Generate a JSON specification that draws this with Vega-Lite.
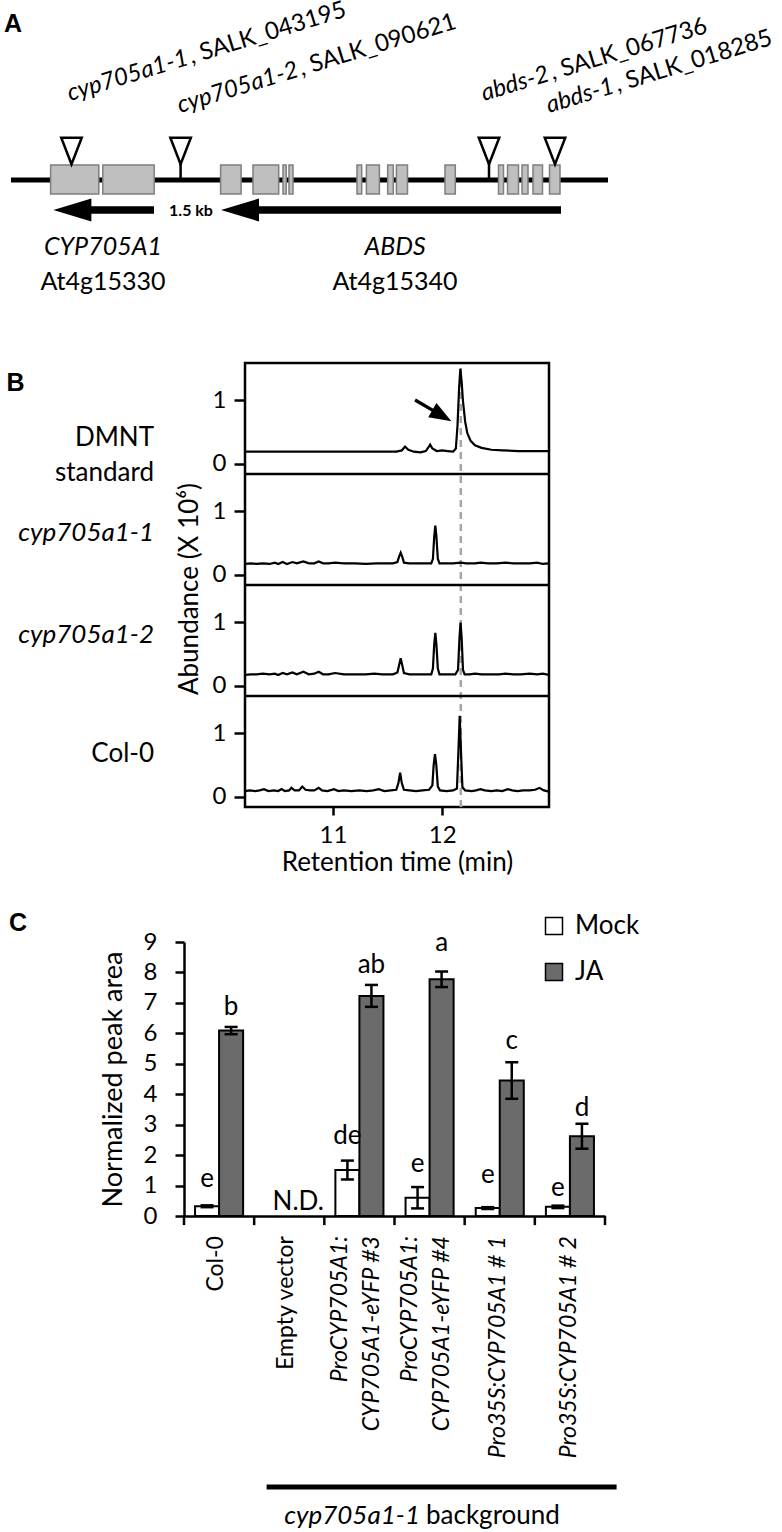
{
"$schema": "https://vega.github.io/schema/vega-lite/v6.json",
"background": "white",
"padding": {"left": 4, "top": -3, "right": 0, "bottom": 0},
"spacing": 34,
"resolve": {"scale": {"color": "independent"}},
"config": {
  "font": "Lato",
  "view": {"stroke": null},
  "axis": {"labelFont": "Lato", "titleFont": "Lato", "labelColor": "black", "titleColor": "black", "domainColor": "black", "tickColor": "black", "grid": false},
  "legend": {"labelFont": "Lato", "labelColor": "black"},
  "text": {"color": "black"}
},
"datasets": {
  "exons": [
    {"pos": 46.6, "pos2": 94.8}, {"pos": 98.8, "pos2": 150.2}, {"pos": 216.6, "pos2": 237.1}, {"pos": 249, "pos2": 274.7},
    {"pos": 279, "pos2": 282.2}, {"pos": 285, "pos2": 289}, {"pos": 353, "pos2": 357.7}, {"pos": 362.4, "pos2": 375.4},
    {"pos": 383.7, "pos2": 389.3}, {"pos": 392.4, "pos2": 403.5}, {"pos": 441, "pos2": 451.3}, {"pos": 494.5, "pos2": 499.5},
    {"pos": 503.5, "pos2": 514.5}, {"pos": 518, "pos2": 524}, {"pos": 529, "pos2": 538.5}, {"pos": 545.5, "pos2": 556}
  ],
  "dmnt": [
    {"t":10.196,"a":0.19},{"t":10.5,"a":0.19},{"t":10.8,"a":0.19},{"t":11.1,"a":0.19},{"t":11.4,"a":0.19},{"t":11.58,"a":0.19},
    {"t":11.63,"a":0.21},{"t":11.66,"a":0.27},{"t":11.69,"a":0.22},{"t":11.74,"a":0.19},{"t":11.8,"a":0.18},{"t":11.85,"a":0.2},
    {"t":11.875,"a":0.26},{"t":11.89,"a":0.3},{"t":11.91,"a":0.24},{"t":11.95,"a":0.2},{"t":12.0,"a":0.21},{"t":12.05,"a":0.2},
    {"t":12.1,"a":0.19},{"t":12.125,"a":0.24},{"t":12.14,"a":0.6},{"t":12.155,"a":1.2},{"t":12.166,"a":1.49},{"t":12.178,"a":1.28},
    {"t":12.19,"a":0.98},{"t":12.21,"a":0.66},{"t":12.23,"a":0.48},{"t":12.26,"a":0.36},{"t":12.3,"a":0.29},{"t":12.36,"a":0.25},
    {"t":12.45,"a":0.22},{"t":12.55,"a":0.21},{"t":12.7,"a":0.2},{"t":12.85,"a":0.2},{"t":12.977,"a":0.2}
  ],
  "cyp1": [
    {"t":10.196,"a":0.17},{"t":10.25,"a":0.18},{"t":10.3,"a":0.17},{"t":10.36,"a":0.18},{"t":10.42,"a":0.17},{"t":10.47,"a":0.19},
    {"t":10.5,"a":0.17},{"t":10.54,"a":0.2},{"t":10.58,"a":0.17},{"t":10.63,"a":0.2},{"t":10.67,"a":0.18},{"t":10.73,"a":0.21},
    {"t":10.78,"a":0.18},{"t":10.83,"a":0.18},{"t":10.87,"a":0.21},{"t":10.91,"a":0.18},{"t":10.96,"a":0.18},{"t":11.02,"a":0.19},
    {"t":11.1,"a":0.18},{"t":11.2,"a":0.18},{"t":11.3,"a":0.17},{"t":11.4,"a":0.18},{"t":11.48,"a":0.18},{"t":11.55,"a":0.18},
    {"t":11.59,"a":0.2},{"t":11.605,"a":0.28},{"t":11.62,"a":0.345},{"t":11.635,"a":0.28},{"t":11.65,"a":0.19},{"t":11.7,"a":0.18},
    {"t":11.78,"a":0.18},{"t":11.85,"a":0.18},{"t":11.9,"a":0.18},{"t":11.915,"a":0.25},{"t":11.927,"a":0.6},{"t":11.937,"a":0.77},
    {"t":11.947,"a":0.6},{"t":11.96,"a":0.25},{"t":11.975,"a":0.18},{"t":12.05,"a":0.18},{"t":12.1,"a":0.18},{"t":12.17,"a":0.19},
    {"t":12.22,"a":0.18},{"t":12.3,"a":0.18},{"t":12.35,"a":0.19},{"t":12.42,"a":0.18},{"t":12.5,"a":0.18},{"t":12.58,"a":0.19},
    {"t":12.65,"a":0.18},{"t":12.72,"a":0.18},{"t":12.8,"a":0.18},{"t":12.87,"a":0.19},{"t":12.92,"a":0.17},{"t":12.977,"a":0.18}
  ],
  "cyp2": [
    {"t":10.196,"a":0.17},{"t":10.25,"a":0.18},{"t":10.3,"a":0.18},{"t":10.36,"a":0.19},{"t":10.42,"a":0.18},{"t":10.47,"a":0.19},
    {"t":10.5,"a":0.17},{"t":10.54,"a":0.2},{"t":10.58,"a":0.18},{"t":10.63,"a":0.21},{"t":10.67,"a":0.18},{"t":10.73,"a":0.22},
    {"t":10.78,"a":0.18},{"t":10.83,"a":0.19},{"t":10.87,"a":0.22},{"t":10.91,"a":0.18},{"t":10.96,"a":0.18},{"t":11.02,"a":0.2},
    {"t":11.1,"a":0.18},{"t":11.2,"a":0.18},{"t":11.3,"a":0.18},{"t":11.38,"a":0.19},{"t":11.45,"a":0.18},{"t":11.55,"a":0.18},
    {"t":11.59,"a":0.21},{"t":11.605,"a":0.32},{"t":11.62,"a":0.43},{"t":11.635,"a":0.32},{"t":11.65,"a":0.2},{"t":11.7,"a":0.18},
    {"t":11.78,"a":0.18},{"t":11.85,"a":0.18},{"t":11.9,"a":0.18},{"t":11.915,"a":0.27},{"t":11.927,"a":0.65},{"t":11.937,"a":0.83},
    {"t":11.947,"a":0.65},{"t":11.96,"a":0.27},{"t":11.975,"a":0.18},{"t":12.05,"a":0.18},{"t":12.12,"a":0.18},{"t":12.145,"a":0.25},
    {"t":12.158,"a":0.75},{"t":12.168,"a":0.99},{"t":12.178,"a":0.75},{"t":12.19,"a":0.25},{"t":12.205,"a":0.18},{"t":12.25,"a":0.18},
    {"t":12.3,"a":0.19},{"t":12.36,"a":0.18},{"t":12.45,"a":0.18},{"t":12.52,"a":0.18},{"t":12.58,"a":0.19},{"t":12.65,"a":0.18},
    {"t":12.72,"a":0.18},{"t":12.8,"a":0.19},{"t":12.87,"a":0.18},{"t":12.92,"a":0.19},{"t":12.977,"a":0.17}
  ],
  "col0": [
    {"t":10.196,"a":0.09},{"t":10.24,"a":0.1},{"t":10.29,"a":0.09},{"t":10.33,"a":0.1},{"t":10.37,"a":0.12},{"t":10.41,"a":0.09},
    {"t":10.46,"a":0.1},{"t":10.5,"a":0.09},{"t":10.53,"a":0.12},{"t":10.56,"a":0.09},{"t":10.6,"a":0.1},{"t":10.62,"a":0.14},
    {"t":10.65,"a":0.1},{"t":10.69,"a":0.1},{"t":10.72,"a":0.16},{"t":10.75,"a":0.11},{"t":10.79,"a":0.1},{"t":10.83,"a":0.1},
    {"t":10.87,"a":0.14},{"t":10.9,"a":0.1},{"t":10.95,"a":0.09},{"t":11.01,"a":0.12},{"t":11.05,"a":0.09},{"t":11.1,"a":0.1},
    {"t":11.17,"a":0.09},{"t":11.24,"a":0.1},{"t":11.31,"a":0.09},{"t":11.37,"a":0.1},{"t":11.42,"a":0.12},{"t":11.47,"a":0.09},
    {"t":11.53,"a":0.1},{"t":11.58,"a":0.11},{"t":11.6,"a":0.22},{"t":11.615,"a":0.38},{"t":11.63,"a":0.22},{"t":11.65,"a":0.11},
    {"t":11.7,"a":0.1},{"t":11.76,"a":0.09},{"t":11.82,"a":0.1},{"t":11.88,"a":0.11},{"t":11.91,"a":0.18},{"t":11.922,"a":0.5},
    {"t":11.934,"a":0.67},{"t":11.946,"a":0.5},{"t":11.96,"a":0.16},{"t":11.98,"a":0.1},{"t":12.04,"a":0.09},{"t":12.1,"a":0.1},
    {"t":12.135,"a":0.13},{"t":12.148,"a":0.7},{"t":12.16,"a":1.27},{"t":12.172,"a":0.7},{"t":12.185,"a":0.15},{"t":12.21,"a":0.1},
    {"t":12.27,"a":0.09},{"t":12.31,"a":0.1},{"t":12.35,"a":0.12},{"t":12.39,"a":0.1},{"t":12.45,"a":0.09},{"t":12.5,"a":0.1},
    {"t":12.55,"a":0.09},{"t":12.6,"a":0.12},{"t":12.64,"a":0.1},{"t":12.69,"a":0.09},{"t":12.74,"a":0.1},{"t":12.8,"a":0.1},
    {"t":12.85,"a":0.11},{"t":12.89,"a":0.14},{"t":12.93,"a":0.1},{"t":12.977,"a":0.08}
  ],
  "bars": [
    {"line": "Col-0", "treatment": "Mock", "mean": 0.32, "lo": 0.29, "hi": 0.35},
    {"line": "Col-0", "treatment": "JA", "mean": 6.09, "lo": 5.97, "hi": 6.21},
    {"line": "ProCYP705A1:CYP705A1-eYFP #3", "treatment": "Mock", "mean": 1.51, "lo": 1.2, "hi": 1.82},
    {"line": "ProCYP705A1:CYP705A1-eYFP #3", "treatment": "JA", "mean": 7.23, "lo": 6.87, "hi": 7.59},
    {"line": "ProCYP705A1:CYP705A1-eYFP #4", "treatment": "Mock", "mean": 0.6, "lo": 0.25, "hi": 0.95},
    {"line": "ProCYP705A1:CYP705A1-eYFP #4", "treatment": "JA", "mean": 7.78, "lo": 7.52, "hi": 8.03},
    {"line": "Pro35S:CYP705A1 # 1", "treatment": "Mock", "mean": 0.26, "lo": 0.23, "hi": 0.29},
    {"line": "Pro35S:CYP705A1 # 1", "treatment": "JA", "mean": 4.45, "lo": 3.85, "hi": 5.05},
    {"line": "Pro35S:CYP705A1 # 2", "treatment": "Mock", "mean": 0.3, "lo": 0.26, "hi": 0.34},
    {"line": "Pro35S:CYP705A1 # 2", "treatment": "JA", "mean": 2.62, "lo": 2.21, "hi": 3.03}
  ],
  "letters": [
    {"line": "Col-0", "treatment": "Mock", "letter": "e", "v": 0.95},
    {"line": "Col-0", "treatment": "JA", "letter": "b", "v": 6.61},
    {"line": "ProCYP705A1:CYP705A1-eYFP #3", "treatment": "Mock", "letter": "de", "v": 2.37},
    {"line": "ProCYP705A1:CYP705A1-eYFP #3", "treatment": "JA", "letter": "ab", "v": 7.98},
    {"line": "ProCYP705A1:CYP705A1-eYFP #4", "treatment": "Mock", "letter": "e", "v": 1.45},
    {"line": "ProCYP705A1:CYP705A1-eYFP #4", "treatment": "JA", "letter": "a", "v": 8.72},
    {"line": "Pro35S:CYP705A1 # 1", "treatment": "Mock", "letter": "e", "v": 1.07},
    {"line": "Pro35S:CYP705A1 # 1", "treatment": "JA", "letter": "c", "v": 5.5},
    {"line": "Pro35S:CYP705A1 # 2", "treatment": "Mock", "letter": "e", "v": 0.67},
    {"line": "Pro35S:CYP705A1 # 2", "treatment": "JA", "letter": "d", "v": 3.29}
  ],
  "cats": [
    {"line": "Col-0"}, {"line": "Empty vector"}, {"line": "ProCYP705A1:CYP705A1-eYFP #3"},
    {"line": "ProCYP705A1:CYP705A1-eYFP #4"}, {"line": "Pro35S:CYP705A1 # 1"}, {"line": "Pro35S:CYP705A1 # 2"}
  ]
},
"vconcat": [
  {
    "width": 778, "height": 327,
    "layer": [
      {"data": {"values": [{"pos": 7, "pos2": 604}]}, "mark": {"type": "rule", "color": "black", "strokeWidth": 5},
       "encoding": {"x": {"field": "pos", "type": "quantitative", "scale": {"domain": [0, 778], "nice": false, "zero": false}, "axis": null}, "x2": {"field": "pos2"},
                    "y": {"datum": 181, "type": "quantitative", "scale": {"domain": [0, 327], "reverse": true, "nice": false, "zero": false}, "axis": null}}},
      {"data": {"values": [{"pos": 176.6}, {"pos": 485}]}, "mark": {"type": "rule", "color": "black", "strokeWidth": 2.5},
       "encoding": {"x": {"field": "pos", "type": "quantitative", "scale": {"domain": [0, 778], "nice": false, "zero": false}, "axis": null},
                    "y": {"datum": 164, "type": "quantitative", "scale": {"domain": [0, 327], "reverse": true, "nice": false, "zero": false}, "axis": null}, "y2": {"datum": 181}}},
      {"data": {"name": "exons"}, "mark": {"type": "rect", "fill": "#bfbfbf", "stroke": "#7f7f7f", "strokeWidth": 1.5},
       "encoding": {"x": {"field": "pos", "type": "quantitative", "scale": {"domain": [0, 778], "nice": false, "zero": false}, "axis": null}, "x2": {"field": "pos2"},
                    "y": {"datum": 166, "type": "quantitative", "scale": {"domain": [0, 327], "reverse": true, "nice": false, "zero": false}, "axis": null}, "y2": {"datum": 195}}},
      {"data": {"values": [{"pos": 87, "pos2": 150}, {"pos": 255, "pos2": 557}]}, "mark": {"type": "rule", "color": "black", "strokeWidth": 7.5},
       "encoding": {"x": {"field": "pos", "type": "quantitative", "scale": {"domain": [0, 778], "nice": false, "zero": false}, "axis": null}, "x2": {"field": "pos2"},
                    "y": {"datum": 211, "type": "quantitative", "scale": {"domain": [0, 327], "reverse": true, "nice": false, "zero": false}, "axis": null}}},
      {"data": {"values": [{"pos": 68.4}, {"pos": 236}]}, "mark": {"type": "point", "shape": "M-1,0L1,-0.6L1,0.6Z", "size": 1444, "filled": true, "color": "black", "opacity": 1},
       "encoding": {"x": {"field": "pos", "type": "quantitative", "scale": {"domain": [0, 778], "nice": false, "zero": false}, "axis": null},
                    "y": {"datum": 211, "type": "quantitative", "scale": {"domain": [0, 327], "reverse": true, "nice": false, "zero": false}, "axis": null}}},
      {"data": {"values": [{"pos": 67.5}, {"pos": 176.6}, {"pos": 485}, {"pos": 551}]}, "mark": {"type": "point", "shape": "M-1,-1.3L1,-1.3L0,1.3Z", "size": 420, "filled": true, "fill": "white", "stroke": "black", "strokeWidth": 2.5, "opacity": 1},
       "encoding": {"x": {"field": "pos", "type": "quantitative", "scale": {"domain": [0, 778], "nice": false, "zero": false}, "axis": null},
                    "y": {"datum": 152, "type": "quantitative", "scale": {"domain": [0, 327], "reverse": true, "nice": false, "zero": false}, "axis": null}}},
      {"data": {"values": [{"pos": 187, "t": "1.5 kb"}]}, "mark": {"type": "text", "fontWeight": "bold", "fontSize": 16, "baseline": "middle", "align": "center"},
       "encoding": {"x": {"field": "pos", "type": "quantitative", "scale": {"domain": [0, 778], "nice": false, "zero": false}, "axis": null},
                    "y": {"datum": 212, "type": "quantitative", "scale": {"domain": [0, 327], "reverse": true, "nice": false, "zero": false}, "axis": null}, "text": {"field": "t"}}},
      {"data": {"values": [{"pos": 99, "t": "CYP705A1"}, {"pos": 391, "t": "ABDS"}]}, "mark": {"type": "text", "fontStyle": "italic", "fontSize": 25, "baseline": "middle", "align": "center"},
       "encoding": {"x": {"field": "pos", "type": "quantitative", "scale": {"domain": [0, 778], "nice": false, "zero": false}, "axis": null},
                    "y": {"datum": 248, "type": "quantitative", "scale": {"domain": [0, 327], "reverse": true, "nice": false, "zero": false}, "axis": null}, "text": {"field": "t"}}},
      {"data": {"values": [{"pos": 99, "t": "At4g15330"}, {"pos": 391, "t": "At4g15340"}]}, "mark": {"type": "text", "fontSize": 25, "baseline": "middle", "align": "center"},
       "encoding": {"x": {"field": "pos", "type": "quantitative", "scale": {"domain": [0, 778], "nice": false, "zero": false}, "axis": null},
                    "y": {"datum": 283, "type": "quantitative", "scale": {"domain": [0, 327], "reverse": true, "nice": false, "zero": false}, "axis": null}, "text": {"field": "t"}}},
      {"data": {"values": [{"pos": 66, "lane": 102, "t": "cyp705a1-1"}, {"pos": 176, "lane": 114, "t": "cyp705a1-2"}, {"pos": 480, "lane": 102, "t": "abds-2"}, {"pos": 545, "lane": 114, "t": "abds-1"}]},
       "mark": {"type": "text", "fontStyle": "italic", "fontSize": 24, "baseline": "alphabetic", "align": "left", "angle": 343},
       "encoding": {"x": {"field": "pos", "type": "quantitative", "scale": {"domain": [0, 778], "nice": false, "zero": false}, "axis": null},
                    "y": {"field": "lane", "type": "quantitative", "scale": {"domain": [0, 327], "reverse": true, "nice": false, "zero": false}, "axis": null}, "text": {"field": "t"}}},
      {"data": {"values": [{"pos": 187.4, "lane": 64.9, "t": ", SALK_043195"}, {"pos": 297.4, "lane": 76.9, "t": ", SALK_090621"}, {"pos": 548.5, "lane": 81.1, "t": ", SALK_067736"}, {"pos": 613.5, "lane": 93.1, "t": ", SALK_018285"}]},
       "mark": {"type": "text", "fontSize": 24, "baseline": "alphabetic", "align": "left", "angle": 343},
       "encoding": {"x": {"field": "pos", "type": "quantitative", "scale": {"domain": [0, 778], "nice": false, "zero": false}, "axis": null},
                    "y": {"field": "lane", "type": "quantitative", "scale": {"domain": [0, 327], "reverse": true, "nice": false, "zero": false}, "axis": null}, "text": {"field": "t"}}},
      {"data": {"values": [{"pos": 0, "t": "A"}]}, "mark": {"type": "text", "font": "Liberation Sans", "fontWeight": "bold", "fontSize": 25, "baseline": "middle", "align": "left"},
       "encoding": {"x": {"field": "pos", "type": "quantitative", "scale": {"domain": [0, 778], "nice": false, "zero": false}, "axis": null},
                    "y": {"datum": 25, "type": "quantitative", "scale": {"domain": [0, 327], "reverse": true, "nice": false, "zero": false}, "axis": null}, "text": {"field": "t"}}}
    ]
  },
  {
    "spacing": 0,
    "hconcat": [
      {"width": 1, "height": 1, "data": {"values": [{"s": 0}]}, "mark": {"type": "point", "opacity": 0, "size": 1}, "encoding": {}},
      {
        "width": 304, "height": 444,
        "view": {"stroke": "black", "strokeWidth": 2.5},
        "resolve": {"scale": {"y": "independent"}},
        "layer": [
          {
            "encoding": {
              "x": {"field": "t", "type": "quantitative", "scale": {"domain": [10.196, 12.977], "nice": false, "zero": false},
                    "axis": {"values": [11, 12], "format": "d", "tickSize": 8, "tickWidth": 2.5, "domain": false, "labelFontSize": 24, "labelPadding": 8, "title": "Retention time (min)", "titleFontSize": 26, "titleFontWeight": "normal", "titlePadding": 2}},
              "y": {"field": "a", "type": "quantitative", "scale": {"domain": [-0.16, 6.8], "nice": false, "zero": false},
                    "axis": {"values": [0, 1, 1.74, 2.74, 3.48, 4.48, 5.22, 6.22], "labelExpr": "round(datum.value * 100) % 174 == 0 ? '0' : '1'", "tickSize": 11, "tickWidth": 2.5, "domain": false, "labelFontSize": 24, "labelPadding": 8, "title": null}}
            },
            "layer": [
              {"data": {"values": [{"t": 12.17, "a": -0.16, "a2": 6.8}]}, "mark": {"type": "rule", "color": "#a6a6a6", "strokeWidth": 2.5, "strokeDash": [7, 5]}, "encoding": {"y2": {"field": "a2"}}},
              {"data": {"values": [{"t": 10.196, "t2": 12.977, "a": 1.58}, {"t": 10.196, "t2": 12.977, "a": 3.32}, {"t": 10.196, "t2": 12.977, "a": 5.06}]}, "mark": {"type": "rule", "color": "black", "strokeWidth": 2.5}, "encoding": {"x2": {"field": "t2"}}},
              {"data": {"values": [{"t": 11.752, "a": 6.22, "t2": 11.997, "a2": 5.975}]}, "mark": {"type": "rule", "color": "black", "strokeWidth": 3.2}, "encoding": {"x2": {"field": "t2"}, "y2": {"field": "a2"}}},
              {"data": {"values": [{"t": 11.997, "a": 5.975}]}, "mark": {"type": "point", "shape": "M1,0L-1,-0.75L-1,0.75Z", "size": 484, "angle": 30, "filled": true, "color": "black", "opacity": 1}, "encoding": {}},
              {"data": {"values": [{"t": 9.364, "a": 5.624}]}, "mark": {"type": "text", "text": ["DMNT", "standard"], "align": "right", "baseline": "middle", "fontSize": 26, "lineHeight": 35}, "encoding": {}},
              {"data": {"values": [{"t": 9.364, "a": 4.135, "label": "cyp705a1-1"}, {"t": 9.364, "a": 2.536, "label": "cyp705a1-2"}]}, "mark": {"type": "text", "fontStyle": "italic", "align": "right", "baseline": "middle", "fontSize": 26}, "encoding": {"text": {"field": "label"}}},
              {"data": {"values": [{"t": 9.364, "a": 0.671, "label": "Col-0"}]}, "mark": {"type": "text", "align": "right", "baseline": "middle", "fontSize": 26}, "encoding": {"text": {"field": "label"}}},
              {"data": {"values": [{"t": 9.693, "a": 3.257, "label": "Abundance (X 10⁶)"}]}, "mark": {"type": "text", "angle": 270, "align": "center", "baseline": "middle", "fontSize": 26}, "encoding": {"text": {"field": "label"}}},
              {"data": {"values": [{"t": 8.014, "a": 6.48, "label": "B"}]}, "mark": {"type": "text", "align": "left", "baseline": "middle", "font": "Liberation Sans", "fontWeight": "bold", "fontSize": 25}, "encoding": {"text": {"field": "label"}}}
            ]
          },
          {"data": {"name": "dmnt"}, "mark": {"type": "line", "color": "black", "strokeWidth": 2.2},
           "encoding": {"x": {"field": "t", "type": "quantitative", "scale": {"domain": [10.196, 12.977], "nice": false, "zero": false},
                              "axis": {"values": [11, 12], "format": "d", "tickSize": 8, "tickWidth": 2.5, "domain": false, "labelFontSize": 24, "labelPadding": 8, "title": "Retention time (min)", "titleFontSize": 26, "titleFontWeight": "normal", "titlePadding": 2}},
                        "y": {"field": "a", "type": "quantitative", "scale": {"domain": [-5.38, 1.58], "nice": false, "zero": false}, "axis": null}}},
          {"data": {"name": "cyp1"}, "mark": {"type": "line", "color": "black", "strokeWidth": 2.2},
           "encoding": {"x": {"field": "t", "type": "quantitative", "scale": {"domain": [10.196, 12.977], "nice": false, "zero": false},
                              "axis": {"values": [11, 12], "format": "d", "tickSize": 8, "tickWidth": 2.5, "domain": false, "labelFontSize": 24, "labelPadding": 8, "title": "Retention time (min)", "titleFontSize": 26, "titleFontWeight": "normal", "titlePadding": 2}},
                        "y": {"field": "a", "type": "quantitative", "scale": {"domain": [-3.64, 3.32], "nice": false, "zero": false}, "axis": null}}},
          {"data": {"name": "cyp2"}, "mark": {"type": "line", "color": "black", "strokeWidth": 2.2},
           "encoding": {"x": {"field": "t", "type": "quantitative", "scale": {"domain": [10.196, 12.977], "nice": false, "zero": false},
                              "axis": {"values": [11, 12], "format": "d", "tickSize": 8, "tickWidth": 2.5, "domain": false, "labelFontSize": 24, "labelPadding": 8, "title": "Retention time (min)", "titleFontSize": 26, "titleFontWeight": "normal", "titlePadding": 2}},
                        "y": {"field": "a", "type": "quantitative", "scale": {"domain": [-1.9, 5.06], "nice": false, "zero": false}, "axis": null}}},
          {"data": {"name": "col0"}, "mark": {"type": "line", "color": "black", "strokeWidth": 2.2},
           "encoding": {"x": {"field": "t", "type": "quantitative", "scale": {"domain": [10.196, 12.977], "nice": false, "zero": false},
                              "axis": {"values": [11, 12], "format": "d", "tickSize": 8, "tickWidth": 2.5, "domain": false, "labelFontSize": 24, "labelPadding": 8, "title": "Retention time (min)", "titleFontSize": 26, "titleFontWeight": "normal", "titlePadding": 2}},
                        "y": {"field": "a", "type": "quantitative", "scale": {"domain": [-0.16, 6.8], "nice": false, "zero": false}, "axis": null}}}
        ]
      }
    ]
  },
  {
    "spacing": 0,
    "resolve": {"scale": {"color": "independent"}},
    "hconcat": [
      {"width": 5, "height": 1, "data": {"values": [{"s": 0}]}, "mark": {"type": "point", "opacity": 0, "size": 1}, "encoding": {}},
      {
        "width": 421, "height": 274,
        "encoding": {
          "x": {"field": "line", "type": "nominal",
                "scale": {"domain": ["Col-0", "Empty vector", "ProCYP705A1:CYP705A1-eYFP #3", "ProCYP705A1:CYP705A1-eYFP #4", "Pro35S:CYP705A1 # 1", "Pro35S:CYP705A1 # 2"], "paddingInner": 0, "paddingOuter": 0},
                "axis": {"title": null, "labels": false, "ticks": false, "domainWidth": 2.5}}
        },
        "layer": [
          {"data": {"name": "bars"}, "mark": {"type": "bar", "stroke": "black", "strokeWidth": 2},
           "encoding": {
             "xOffset": {"field": "treatment", "type": "nominal", "scale": {"domain": ["Mock", "JA"], "paddingInner": 0, "paddingOuter": 0.46}},
             "y": {"field": "mean", "type": "quantitative", "scale": {"domain": [0, 9], "nice": false},
                   "axis": {"title": "Normalized peak area", "titleFontSize": 27, "titleFontWeight": "normal", "titlePadding": 16, "values": [0, 1, 2, 3, 4, 5, 6, 7, 8, 9], "labelOverlap": false, "tickSize": 9, "tickWidth": 2.5, "domainWidth": 2.5, "labelFontSize": 24, "labelPadding": 18}},
             "color": {"field": "treatment", "type": "nominal", "scale": {"domain": ["Mock", "JA"], "range": ["#ffffff", "#6b6b6b"]},
                       "legend": {"title": null, "orient": "none", "legendX": 357, "legendY": -29, "symbolType": "square", "symbolSize": 289,
                                  "symbolStrokeColor": "black", "symbolStrokeWidth": 1.5, "labelFontSize": 26, "labelOffset": 8, "rowPadding": 20, "padding": 0}}
           }},
          {"data": {"name": "bars"}, "mark": {"type": "rule", "color": "black", "strokeWidth": 2.5},
           "encoding": {
             "xOffset": {"field": "treatment", "type": "nominal", "scale": {"domain": ["Mock", "JA"], "paddingInner": 0, "paddingOuter": 0.46}},
             "y": {"field": "lo", "type": "quantitative", "scale": {"domain": [0, 9], "nice": false},
                   "axis": {"title": "Normalized peak area", "titleFontSize": 27, "titleFontWeight": "normal", "titlePadding": 16, "values": [0, 1, 2, 3, 4, 5, 6, 7, 8, 9], "labelOverlap": false, "tickSize": 9, "tickWidth": 2.5, "domainWidth": 2.5, "labelFontSize": 24, "labelPadding": 18}},
             "y2": {"field": "hi"}
           }},
          {"data": {"name": "bars"}, "mark": {"type": "tick", "color": "black", "thickness": 2.5, "size": 13, "opacity": 1, "orient": "horizontal"},
           "encoding": {
             "xOffset": {"field": "treatment", "type": "nominal", "scale": {"domain": ["Mock", "JA"], "paddingInner": 0, "paddingOuter": 0.46}},
             "y": {"field": "lo", "type": "quantitative", "scale": {"domain": [0, 9], "nice": false},
                   "axis": {"title": "Normalized peak area", "titleFontSize": 27, "titleFontWeight": "normal", "titlePadding": 16, "values": [0, 1, 2, 3, 4, 5, 6, 7, 8, 9], "labelOverlap": false, "tickSize": 9, "tickWidth": 2.5, "domainWidth": 2.5, "labelFontSize": 24, "labelPadding": 18}}
           }},
          {"data": {"name": "bars"}, "mark": {"type": "tick", "color": "black", "thickness": 2.5, "size": 13, "opacity": 1, "orient": "horizontal"},
           "encoding": {
             "xOffset": {"field": "treatment", "type": "nominal", "scale": {"domain": ["Mock", "JA"], "paddingInner": 0, "paddingOuter": 0.46}},
             "y": {"field": "hi", "type": "quantitative", "scale": {"domain": [0, 9], "nice": false},
                   "axis": {"title": "Normalized peak area", "titleFontSize": 27, "titleFontWeight": "normal", "titlePadding": 16, "values": [0, 1, 2, 3, 4, 5, 6, 7, 8, 9], "labelOverlap": false, "tickSize": 9, "tickWidth": 2.5, "domainWidth": 2.5, "labelFontSize": 24, "labelPadding": 18}}
           }},
          {"data": {"name": "letters"}, "mark": {"type": "text", "fontSize": 26, "baseline": "alphabetic", "align": "center"},
           "encoding": {
             "xOffset": {"field": "treatment", "type": "nominal", "scale": {"domain": ["Mock", "JA"], "paddingInner": 0, "paddingOuter": 0.46}},
             "y": {"field": "v", "type": "quantitative", "scale": {"domain": [0, 9], "nice": false},
                   "axis": {"title": "Normalized peak area", "titleFontSize": 27, "titleFontWeight": "normal", "titlePadding": 16, "values": [0, 1, 2, 3, 4, 5, 6, 7, 8, 9], "labelOverlap": false, "tickSize": 9, "tickWidth": 2.5, "domainWidth": 2.5, "labelFontSize": 24, "labelPadding": 18}},
             "text": {"field": "letter"}
           }},
          {"data": {"values": [{"line": "Empty vector", "v": 0.2, "note": "N.D."}]}, "mark": {"type": "text", "fontSize": 26, "baseline": "alphabetic", "align": "center", "dx": 9},
           "encoding": {
             "y": {"field": "v", "type": "quantitative", "scale": {"domain": [0, 9], "nice": false},
                   "axis": {"title": "Normalized peak area", "titleFontSize": 27, "titleFontWeight": "normal", "titlePadding": 16, "values": [0, 1, 2, 3, 4, 5, 6, 7, 8, 9], "labelOverlap": false, "tickSize": 9, "tickWidth": 2.5, "domainWidth": 2.5, "labelFontSize": 24, "labelPadding": 18}},
             "text": {"field": "note"}
           }},
          {"data": {"name": "cats"}, "mark": {"type": "rule", "color": "black", "strokeWidth": 2.5},
           "encoding": {
             "x": {"field": "line", "type": "nominal", "bandPosition": 0, "axis": {"title": null, "labels": false, "ticks": false, "domainWidth": 2.5}},
             "y": {"datum": 0, "type": "quantitative", "scale": {"domain": [0, 9], "nice": false},
                   "axis": {"title": "Normalized peak area", "titleFontSize": 27, "titleFontWeight": "normal", "titlePadding": 16, "values": [0, 1, 2, 3, 4, 5, 6, 7, 8, 9], "labelOverlap": false, "tickSize": 9, "tickWidth": 2.5, "domainWidth": 2.5, "labelFontSize": 24, "labelPadding": 18}},
             "y2": {"datum": -0.3}
           }},
          {"data": {"values": [{"line": "Pro35S:CYP705A1 # 2"}]}, "mark": {"type": "rule", "color": "black", "strokeWidth": 2.5},
           "encoding": {
             "x": {"field": "line", "type": "nominal", "bandPosition": 1, "axis": {"title": null, "labels": false, "ticks": false, "domainWidth": 2.5}},
             "y": {"datum": 0, "type": "quantitative", "scale": {"domain": [0, 9], "nice": false},
                   "axis": {"title": "Normalized peak area", "titleFontSize": 27, "titleFontWeight": "normal", "titlePadding": 16, "values": [0, 1, 2, 3, 4, 5, 6, 7, 8, 9], "labelOverlap": false, "tickSize": 9, "tickWidth": 2.5, "domainWidth": 2.5, "labelFontSize": 24, "labelPadding": 18}},
             "y2": {"datum": -0.3}
           }},
          {"data": {"values": [{"line": "Col-0", "lab": "Col-0"}, {"line": "Empty vector", "lab": "Empty vector"}]}, "mark": {"type": "text", "fontSize": 23, "angle": 270, "align": "right", "baseline": "middle"},
           "encoding": {
             "x": {"field": "line", "type": "nominal", "bandPosition": 0.45, "axis": {"title": null, "labels": false, "ticks": false, "domainWidth": 2.5}},
             "y": {"datum": -0.66, "type": "quantitative", "scale": {"domain": [0, 9], "nice": false},
                   "axis": {"title": "Normalized peak area", "titleFontSize": 27, "titleFontWeight": "normal", "titlePadding": 16, "values": [0, 1, 2, 3, 4, 5, 6, 7, 8, 9], "labelOverlap": false, "tickSize": 9, "tickWidth": 2.5, "domainWidth": 2.5, "labelFontSize": 24, "labelPadding": 18}},
             "text": {"field": "lab"}
           }},
          {"data": {"values": [{"line": "ProCYP705A1:CYP705A1-eYFP #3", "lab": "ProCYP705A1:"}, {"line": "ProCYP705A1:CYP705A1-eYFP #4", "lab": "ProCYP705A1:"}]}, "mark": {"type": "text", "fontSize": 23, "fontStyle": "italic", "angle": 270, "align": "right", "baseline": "middle"},
           "encoding": {
             "x": {"field": "line", "type": "nominal", "bandPosition": 0.22, "axis": {"title": null, "labels": false, "ticks": false, "domainWidth": 2.5}},
             "y": {"datum": -0.66, "type": "quantitative", "scale": {"domain": [0, 9], "nice": false},
                   "axis": {"title": "Normalized peak area", "titleFontSize": 27, "titleFontWeight": "normal", "titlePadding": 16, "values": [0, 1, 2, 3, 4, 5, 6, 7, 8, 9], "labelOverlap": false, "tickSize": 9, "tickWidth": 2.5, "domainWidth": 2.5, "labelFontSize": 24, "labelPadding": 18}},
             "text": {"field": "lab"}
           }},
          {"data": {"values": [{"line": "ProCYP705A1:CYP705A1-eYFP #3", "lab": "CYP705A1-eYFP #3"}, {"line": "ProCYP705A1:CYP705A1-eYFP #4", "lab": "CYP705A1-eYFP #4"}]}, "mark": {"type": "text", "fontSize": 23, "fontStyle": "italic", "angle": 270, "align": "right", "baseline": "middle"},
           "encoding": {
             "x": {"field": "line", "type": "nominal", "bandPosition": 0.68, "axis": {"title": null, "labels": false, "ticks": false, "domainWidth": 2.5}},
             "y": {"datum": -0.66, "type": "quantitative", "scale": {"domain": [0, 9], "nice": false},
                   "axis": {"title": "Normalized peak area", "titleFontSize": 27, "titleFontWeight": "normal", "titlePadding": 16, "values": [0, 1, 2, 3, 4, 5, 6, 7, 8, 9], "labelOverlap": false, "tickSize": 9, "tickWidth": 2.5, "domainWidth": 2.5, "labelFontSize": 24, "labelPadding": 18}},
             "text": {"field": "lab"}
           }},
          {"data": {"values": [{"line": "Pro35S:CYP705A1 # 1", "lab": "Pro35S:CYP705A1 # 1"}, {"line": "Pro35S:CYP705A1 # 2", "lab": "Pro35S:CYP705A1 # 2"}]}, "mark": {"type": "text", "fontSize": 23, "fontStyle": "italic", "angle": 270, "align": "right", "baseline": "middle"},
           "encoding": {
             "x": {"field": "line", "type": "nominal", "bandPosition": 0.48, "axis": {"title": null, "labels": false, "ticks": false, "domainWidth": 2.5}},
             "y": {"datum": -0.66, "type": "quantitative", "scale": {"domain": [0, 9], "nice": false},
                   "axis": {"title": "Normalized peak area", "titleFontSize": 27, "titleFontWeight": "normal", "titlePadding": 16, "values": [0, 1, 2, 3, 4, 5, 6, 7, 8, 9], "labelOverlap": false, "tickSize": 9, "tickWidth": 2.5, "domainWidth": 2.5, "labelFontSize": 24, "labelPadding": 18}},
             "text": {"field": "lab"}
           }},
          {"data": {"values": [{"line": "ProCYP705A1:CYP705A1-eYFP #4", "treatment": "JA", "v": -8.9}]}, "mark": {"type": "tick", "color": "black", "thickness": 5, "size": 350, "opacity": 1, "orient": "horizontal"},
           "encoding": {
             "xOffset": {"field": "treatment", "type": "nominal", "scale": {"domain": ["Mock", "JA"], "paddingInner": 0, "paddingOuter": 0.46}},
             "y": {"field": "v", "type": "quantitative", "scale": {"domain": [0, 9], "nice": false},
                   "axis": {"title": "Normalized peak area", "titleFontSize": 27, "titleFontWeight": "normal", "titlePadding": 16, "values": [0, 1, 2, 3, 4, 5, 6, 7, 8, 9], "labelOverlap": false, "tickSize": 9, "tickWidth": 2.5, "domainWidth": 2.5, "labelFontSize": 24, "labelPadding": 18}}
           }},
          {"data": {"values": [{"v": -9.86, "note": "cyp705a1-1"}]}, "mark": {"type": "text", "fontSize": 26, "fontStyle": "italic", "baseline": "middle", "align": "right"},
           "encoding": {
             "x": {"datum": "ProCYP705A1:CYP705A1-eYFP #4", "type": "nominal", "bandPosition": 0.363, "axis": {"title": null, "labels": false, "ticks": false, "domainWidth": 2.5}},
             "y": {"field": "v", "type": "quantitative", "scale": {"domain": [0, 9], "nice": false},
                   "axis": {"title": "Normalized peak area", "titleFontSize": 27, "titleFontWeight": "normal", "titlePadding": 16, "values": [0, 1, 2, 3, 4, 5, 6, 7, 8, 9], "labelOverlap": false, "tickSize": 9, "tickWidth": 2.5, "domainWidth": 2.5, "labelFontSize": 24, "labelPadding": 18}},
             "text": {"field": "note"}
           }},
          {"data": {"values": [{"v": -9.86, "note": "background"}]}, "mark": {"type": "text", "fontSize": 26, "baseline": "middle", "align": "left"},
           "encoding": {
             "x": {"datum": "ProCYP705A1:CYP705A1-eYFP #4", "type": "nominal", "bandPosition": 0.449, "axis": {"title": null, "labels": false, "ticks": false, "domainWidth": 2.5}},
             "y": {"field": "v", "type": "quantitative", "scale": {"domain": [0, 9], "nice": false},
                   "axis": {"title": "Normalized peak area", "titleFontSize": 27, "titleFontWeight": "normal", "titlePadding": 16, "values": [0, 1, 2, 3, 4, 5, 6, 7, 8, 9], "labelOverlap": false, "tickSize": 9, "tickWidth": 2.5, "domainWidth": 2.5, "labelFontSize": 24, "labelPadding": 18}},
             "text": {"field": "note"}
           }},
          {"data": {"values": [{"v": 9.61, "note": "C"}]}, "mark": {"type": "text", "font": "Liberation Sans", "fontWeight": "bold", "fontSize": 25, "baseline": "middle", "align": "left"},
           "encoding": {
             "x": {"datum": "Col-0", "type": "nominal", "bandPosition": -2.494, "axis": {"title": null, "labels": false, "ticks": false, "domainWidth": 2.5}},
             "y": {"field": "v", "type": "quantitative", "scale": {"domain": [0, 9], "nice": false},
                   "axis": {"title": "Normalized peak area", "titleFontSize": 27, "titleFontWeight": "normal", "titlePadding": 16, "values": [0, 1, 2, 3, 4, 5, 6, 7, 8, 9], "labelOverlap": false, "tickSize": 9, "tickWidth": 2.5, "domainWidth": 2.5, "labelFontSize": 24, "labelPadding": 18}},
             "text": {"field": "note"}
           }}
        ]
      }
    ]
  }
]
}
